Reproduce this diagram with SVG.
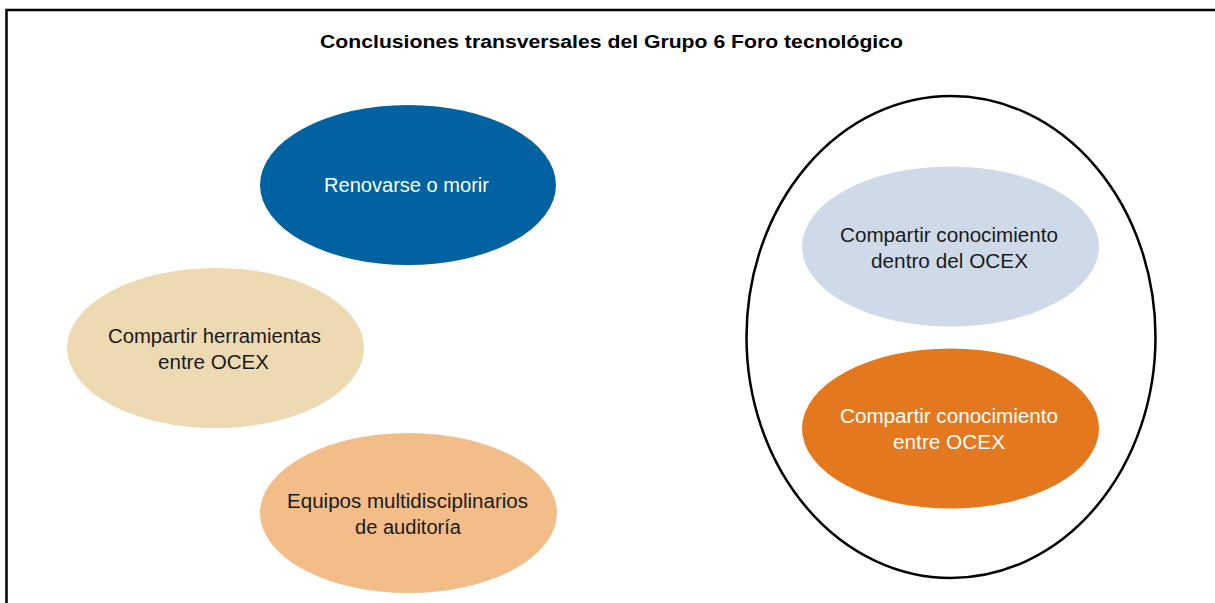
<svg xmlns="http://www.w3.org/2000/svg" width="1215" height="603" viewBox="0 0 1215 603">
<style>
.lbl{font-family:"Liberation Sans",Arial,sans-serif;font-size:19.5px;text-anchor:middle}
.dark{fill:#1a1a1a}
.light{fill:#ffffff}
.title{font-family:"Liberation Sans",Arial,sans-serif;font-size:18px;font-weight:bold;text-anchor:middle;fill:#000}
</style>
<rect x="0" y="0" width="1215" height="603" fill="#ffffff"/>
<path d="M6.5,610 L6.5,10 L1220,10" fill="none" stroke="#000" stroke-width="2.5"/>
<text class="title" x="611.5" y="48" textLength="583" lengthAdjust="spacingAndGlyphs">Conclusiones transversales del Grupo 6 Foro tecnológico</text>
<g id="connectors"></g>
<g id="grupo-circulo">
<ellipse cx="951" cy="337" rx="204.5" ry="241" fill="none" stroke="#000" stroke-width="2.5"/>
</g>
<g id="renovarse">
<ellipse cx="408" cy="185" rx="148" ry="80" fill="#0062A0"/>
<text class="lbl light" x="406.5" y="192" textLength="165" lengthAdjust="spacingAndGlyphs">Renovarse o morir</text>
</g>
<g id="herramientas">
<ellipse cx="215.5" cy="348" rx="148.5" ry="80" fill="#EDD9B2"/>
<text class="lbl dark" x="214.5" y="343" textLength="213" lengthAdjust="spacingAndGlyphs">Compartir herramientas</text>
<text class="lbl dark" x="213.5" y="369" textLength="111" lengthAdjust="spacingAndGlyphs">entre OCEX</text>
</g>
<g id="equipos">
<ellipse cx="408.5" cy="513" rx="148.5" ry="80" fill="#F3BD8A"/>
<text class="lbl dark" x="407.5" y="508" textLength="241" lengthAdjust="spacingAndGlyphs">Equipos multidisciplinarios</text>
<text class="lbl dark" x="408" y="534" textLength="106" lengthAdjust="spacingAndGlyphs">de auditoría</text>
</g>
<g id="dentro">
<ellipse cx="950.5" cy="246.5" rx="148.5" ry="80" fill="#CFDAE9"/>
<text class="lbl dark" x="949" y="242" textLength="218" lengthAdjust="spacingAndGlyphs">Compartir conocimiento</text>
<text class="lbl dark" x="949.5" y="268" textLength="157" lengthAdjust="spacingAndGlyphs">dentro del OCEX</text>
</g>
<g id="entre">
<ellipse cx="950.5" cy="428.5" rx="148.5" ry="80" fill="#E4781E"/>
<text class="lbl light" x="949" y="423" textLength="218" lengthAdjust="spacingAndGlyphs">Compartir conocimiento</text>
<text class="lbl light" x="949" y="449" textLength="112" lengthAdjust="spacingAndGlyphs">entre OCEX</text>
</g>
</svg>
